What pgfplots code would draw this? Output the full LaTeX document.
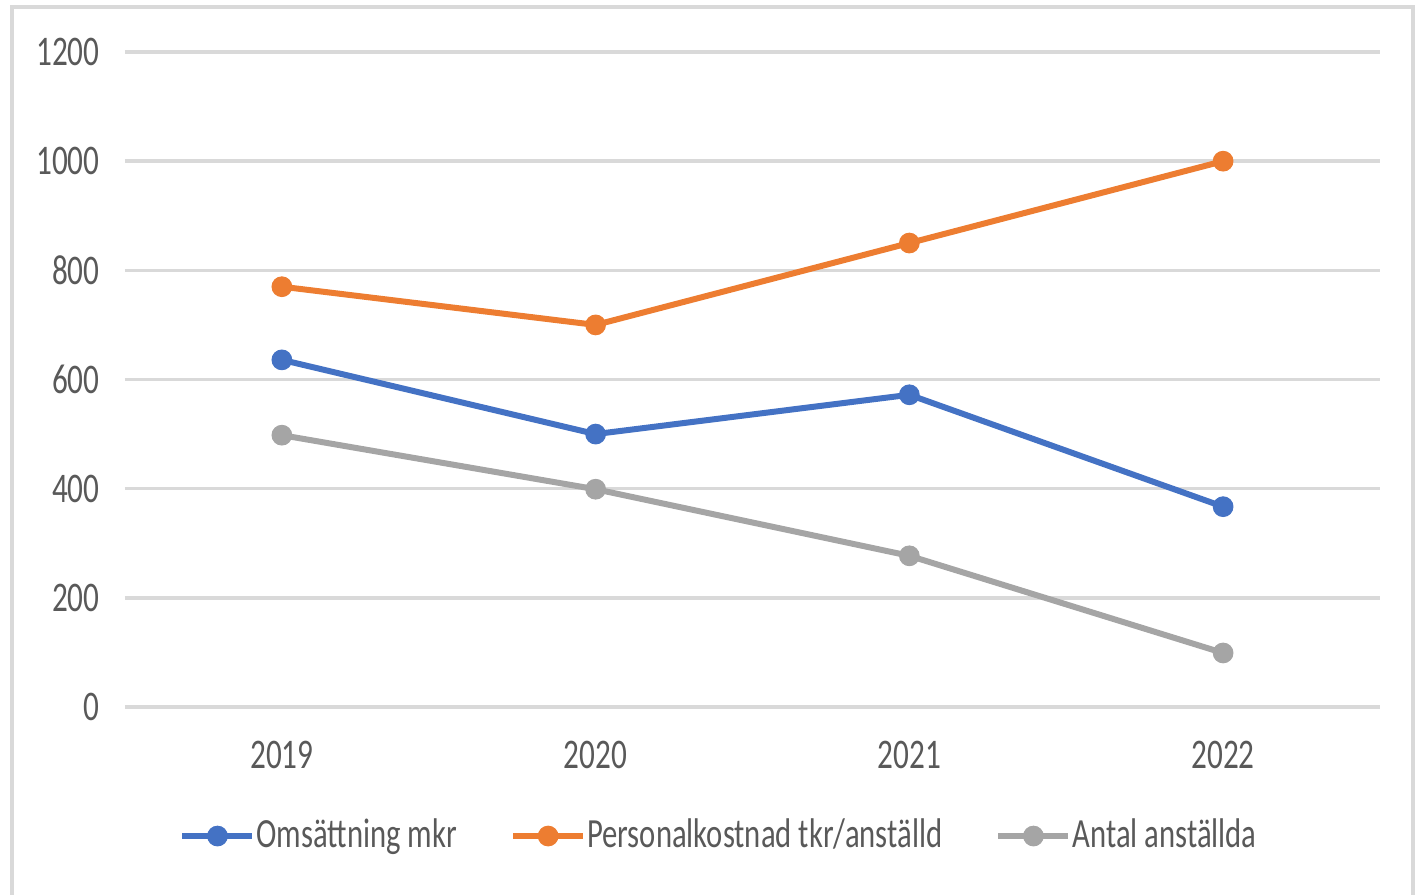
\documentclass[border=0pt]{standalone}
\usepackage{pgfplots}
\pgfplotsset{compat=1.18}
\usepackage{fontspec}
\setmainfont{Carlito}[FakeStretch=0.74]
\definecolor{cblue}{HTML}{4472C4}
\definecolor{corange}{HTML}{ED7D31}
\definecolor{cgray}{HTML}{A5A5A5}
\definecolor{ctext}{HTML}{595959}
\definecolor{cgrid}{HTML}{D9D9D9}
\begin{document}
\begin{tikzpicture}
  \useasboundingbox (-1.25,-1.87) rectangle (12.91,7.07);
  \draw[cgrid, line width=0.4mm] (-1.13,-1.95) -- (-1.13,7.0) -- (12.88,7.0) -- (12.88,-1.95);
  \begin{axis}[
      at={(0,0)}, anchor=south west,
      scale only axis,
      width=12.55cm, height=6.55cm,
      xmin=-0.5, xmax=3.5,
      ymin=0, ymax=1200,
      xtick={0,1,2,3},
      xticklabels={2019,2020,2021,2022},
      ytick={0,200,...,1200},
      axis line style={draw=none},
      tick style={draw=none},
      ymajorgrids,
      grid style={cgrid, line width=0.35mm},
      font=\fontsize{12}{14}\selectfont,
      /pgf/number format/assume math mode=true,
      /pgf/number format/set thousands separator={},
      ticklabel style={text=ctext},
      yticklabel style={xshift=-1.3mm},
      xticklabel style={yshift=-2.2mm},
      legend columns=3,
      legend style={at={(0.473,-0.197)}, anchor=center, draw=none, fill=none,
        text=ctext, font=\fontsize{11.8}{14}\selectfont,
        nodes={inner xsep=0.3pt},
        /tikz/every even column/.append style={column sep=5.2mm}},
      legend image code/.code={
        \draw[#1, mark=none] (0cm,0cm) -- (0.7cm,0cm);
        \draw[#1, only marks] plot coordinates {(0.35cm,0cm)};
      },
      every axis plot/.append style={line width=0.6mm, mark=*, mark size=2.8pt},
    ]
    \addplot[cblue, mark options={fill=cblue, draw=cblue, line width=0.3pt}] coordinates {(0,636) (1,500) (2,572) (3,367)};
    \addplot[corange, mark options={fill=corange, draw=corange, line width=0.3pt}] coordinates {(0,770) (1,700) (2,850) (3,1000)};
    \addplot[cgray, mark options={fill=cgray, draw=cgray, line width=0.3pt}] coordinates {(0,498) (1,399) (2,277) (3,99)};
    \legend{Omsättning mkr, Personalkostnad tkr/anställd, Antal anställda}
  \end{axis}
\end{tikzpicture}
\end{document}
